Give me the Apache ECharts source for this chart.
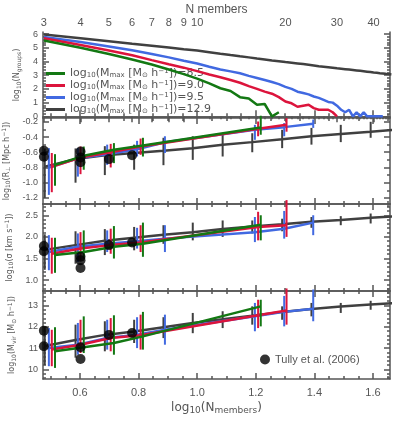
<!DOCTYPE html>
<html><head><meta charset="utf-8">
<script src="https://cdn.jsdelivr.net/npm/echarts@6/dist/echarts.min.js"></script>
<style>html,body{margin:0;padding:0;background:#fff}#c{width:398px;height:424px}</style>
</head><body><div id="c"></div>
<script>
// ---------------- DATA ----------------
// Top panel: log10(N_groups) for N members = 3,4,5,...
const ngGreen = [5.53,5.0,4.55,4.15,3.78,3.42,3.08,2.75,2.4,2.05,1.85,1.4,1.3,0.85,0.9,0,0.3];
const ngRed   = [5.69,5.2,4.8,4.45,4.1,3.8,3.55,3.3,3.05,2.85,2.65,2.45,2.2,2.0,1.8,1.65,1.4,1.08,0.95,0.7,0.78,0.85,0.6,0.48,0.48,0.48,0.3,0];
const ngBlue  = [5.78,5.42,5.1,4.82,4.55,4.3,4.05,3.85,3.62,3.42,3.28,3.14,2.95,2.8,2.65,2.5,2.35,2.15,2.0,1.8,1.7,1.6,1.45,1.35,1.2,1.05,1.0,0.78,0.48,0.3,0.48,0,0.3,0,0.3,0,0,0,0,0,0];
const ngGray  = [5.96,5.7,5.48,5.3,5.15,5.02,4.9,4.8,4.68,4.57,4.47,4.38,4.3,4.22,4.15,4.08,4.02,3.96,3.91,3.86,3.81,3.76,3.71,3.66,3.62,3.58,3.54,3.5,3.47,3.44,3.41,3.38,3.35,3.32,3.29,3.26,3.23,3.2,3.18,3.15,3.13,3.1,3.08,3.05];
const massLabels = ['8.5','9.0','9.5','12.9'];

// Bin positions (log10 N_members)
const binXGray  = [0.48,0.585,0.685,0.785,0.885,0.985,1.087,1.188,1.29,1.39,1.49,1.592,1.69];
const binXBlue  = [0.494,0.593,0.693,0.795,0.89,1.197,1.297,1.396];
const binXRed   = [0.504,0.602,0.705,0.807,1.208,1.305];
const binXGreen = [0.515,0.613,0.716,0.815,1.217];

// Panel 2: log10(R)
const rGray = [-0.79,-0.69,-0.64,-0.61,-0.58,-0.546,-0.50,-0.467,-0.43,-0.39,-0.36,-0.33,-0.30];
const rGrayLo = [-1.2,-1.0,-0.90,-0.83,-0.77,-0.70,-0.656,-0.60,-0.546,-0.50,-0.467,-0.41];
const rGrayHi = [-0.55,-0.55,-0.52,-0.50,-0.41,-0.39,-0.37,-0.35,-0.305,-0.28,-0.24,-0.20];
const rBlue = [-0.80,-0.68,-0.625,-0.56,-0.47,-0.305,-0.27,-0.226];
const rBlueLo = [-1.16,-0.92,-0.766,-0.656,-0.61,-0.437,-0.39,-0.28];
const rBlueHi = [-0.546,-0.546,-0.50,-0.45,-0.39,-0.24,-0.217,-0.17];
const rRed = [-0.79,-0.67,-0.60,-0.525,-0.29,-0.24];
const rRedLo = [-1.125,-0.888,-0.80,-0.634,-0.39,-0.33];
const rRedHi = [-0.61,-0.525,-0.49,-0.42,-0.196,-0.15];
const rGreen = [-0.766,-0.647,-0.568,-0.51,-0.275];
const rGreenLo = [-1.04,-0.83,-0.743,-0.656,-0.37];
const rGreenHi = [-0.625,-0.525,-0.48,-0.41,-0.12];
const tullyXR = [0.477,0.477,0.602,0.602,0.602,0.699,0.778];
const tullyR  = [-0.58,-0.66,-0.59,-0.67,-0.73,-0.69,-0.64];

// Panel 3: log10(sigma)
const sGray = [1.70,1.81,1.91,1.98,2.05,2.11,2.18,2.24,2.29,2.35,2.39,2.44,2.48];
const sGrayLo = [1.24,1.38,1.58,1.69,1.84,1.92,2.0,2.08,2.13,2.21,2.27,2.31];
const sGrayHi = [2.06,2.13,2.18,2.23,2.27,2.33,2.38,2.38,2.42,2.46,2.48,2.54];
const sBlue = [1.65,1.77,1.84,1.90,1.96,2.11,2.19,2.33];
const sBlueLo = [1.23,1.42,1.65,1.73,1.65,1.88,1.96,2.04];
const sBlueHi = [2.04,2.08,2.15,2.21,2.27,2.46,2.6,2.5];
const sRed = [1.61,1.73,1.81,1.87,2.23,2.27];
const sRedLo = [1.15,1.46,1.61,1.65,1.92,2.0];
const sRedHi = [1.98,2.11,2.19,2.27,2.58,2.85];
const sGreen = [1.58,1.65,1.77,1.84,2.28];
const sGreenLo = [1.17,1.5,1.5,1.54,1.92];
const sGreenHi = [1.98,2.15,2.25,2.33,2.5];
const tullyXS = [0.477,0.477,0.602,0.602,0.602,0.699,0.778];
const tullyS  = [1.79,1.67,1.54,1.46,1.28,1.81,1.87];

// Panel 4: log10(M_vir)
const mGray = [11.1,11.38,11.62,11.78,11.98,12.18,12.35,12.52,12.7,12.83,12.95,13.05,13.13];
const mGrayLo = [10.2,10.55,10.85,11.24,11.47,11.7,11.94,12.1,12.33,12.49,12.65,12.8];
const mGrayHi = [12.0,12.1,12.26,12.33,12.45,12.65,12.73,12.96,12.96,13.12,13.12,13.22];
const mBlue = [11.0,11.16,11.47,11.63,11.86,12.49,12.7,12.85];
const mBlueLo = [10.15,10.69,10.93,11.0,11.16,11.79,12.02,12.26];
const mBlueHi = [11.94,12.18,12.33,12.45,12.57,13.12,13.45,13.75];
const mRed = [10.93,11.16,11.47,11.6,12.54,12.76];
const mRedLo = [10.15,10.77,10.85,10.93,11.94,12.1];
const mRedHi = [11.86,12.33,12.41,12.57,13.27,13.8];
const mGreen = [10.85,11.04,11.24,11.55,12.96];
const mGreenLo = [10.07,10.77,10.69,10.93,12.02];
const mGreenHi = [11.98,12.49,12.54,12.7,13.27];
const tullyXM = [0.477,0.477,0.602,0.602,0.699,0.778];
const tullyM  = [11.82,11.09,11.04,10.49,11.62,11.71];

// Tick labels
const xTickLabels = [0.6,0.8,1.0,1.2,1.4,1.6];
const nTopLabels = [3,4,5,6,7,8,9,10,20,30,40];

// ---------------- STYLE / LAYOUT ----------------
const C = {gray:'#404040', blue:'#4169e1', red:'#dc143c', green:'#137813'};
const AX = '#555';
const FONT = 'DejaVu Sans';
const TFONT = 'Liberation Sans';
const XMIN = 0.474, XMAX = 1.658;
const LEFT = 43, WIDTH = 347;
const richSub = {
  s:{fontSize:6,lineHeight:8,verticalAlign:'bottom',fontFamily:FONT,color:AX},
  p:{fontSize:6,lineHeight:8,verticalAlign:'top',fontFamily:FONT,color:AX}
};
function range(a,b,step){const o=[];for(let v=a;v<=b+1e-9;v+=step)o.push(+v.toFixed(4));return o;}

const panels = [
  {top:32,height:86,min:-0.12,max:6.15,major:[0,1,2,3,4,5,6],minor:range(0,6.0,0.2),fmt:v=>String(Math.round(v)),name:'log{s|10}(N{s|groups})',gap:15},
  {top:118,height:86,min:-1.28,max:-0.15,major:[-1.2,-1.0,-0.8,-0.6,-0.4,-0.2],minor:range(-1.2,-0.2,0.1),fmt:v=>v.toFixed(1),name:'log{s|10}(R{s|⊥} [Mpc h{p|−1}])',gap:23},
  {top:204,height:87,min:0.75,max:2.76,major:[1.0,1.5,2.0,2.5],minor:range(0.8,2.7,0.1),fmt:v=>v.toFixed(1),name:'log{s|10}(σ [km s{p|−1}])',gap:18},
  {top:291,height:88,min:9.55,max:13.68,major:[10,11,12,13],minor:range(9.6,13.6,0.2),fmt:v=>String(Math.round(v)),name:'log{s|10}(M{s|vir} [M{s|⊙} h{p|−1}])',gap:15}
];

const grids=[], xAxes=[], yAxes=[];
const lineSt = {color:AX,width:1.5};
const xMajorTicks = [0.6,0.8,1.0,1.2,1.4,1.6];
const xMinorTicks = range(0.5,1.65,0.05);
const nMinor = [];
for(let n=11;n<=45;n++){ if(n%10!==0) nMinor.push(Math.log10(n)); }

panels.forEach((p,i)=>{
  grids.push({left:LEFT,width:WIDTH,top:p.top,height:p.height,containLabel:false,outerBoundsMode:'none'});
  const base = {gridIndex:i,type:'value',min:XMIN,max:XMAX,splitLine:{show:false}};
  xAxes.push(Object.assign({},base,{position:'bottom',
    axisLine:{show:true,lineStyle:lineSt},
    axisTick:{show:true,inside:true,length:6,customValues:xMajorTicks,lineStyle:lineSt},
    axisLabel:{show:i===3,customValues:xTickLabels,formatter:v=>v.toFixed(1),color:AX,fontFamily:TFONT,fontSize:11,margin:8},
    name:i===3?'log{a|10}(N{a|members})':'',nameLocation:'middle',nameGap:22,
    nameTextStyle:{fontFamily:FONT,fontSize:12,color:AX,lineHeight:14,rich:{a:{fontSize:9,lineHeight:10,verticalAlign:'bottom',fontFamily:FONT,color:AX}}}
  }));
  xAxes.push(Object.assign({},base,{position:'bottom',axisLine:{show:false},
    axisTick:{show:true,inside:true,length:3,customValues:xMinorTicks,lineStyle:lineSt},axisLabel:{show:false}}));
  if(i===0){
    xAxes.push(Object.assign({},base,{position:'top',
      axisLine:{show:true,lineStyle:lineSt},
      axisTick:{show:true,inside:true,length:6,customValues:nTopLabels.map(n=>Math.log10(n)),lineStyle:lineSt},
      axisLabel:{show:true,customValues:nTopLabels.map(n=>Math.log10(n)),formatter:v=>String(Math.round(Math.pow(10,v))),color:AX,fontFamily:TFONT,fontSize:11,margin:4},
      name:'N members',nameLocation:'middle',nameGap:16,nameTextStyle:{fontFamily:TFONT,fontSize:12,color:AX}
    }));
    xAxes.push(Object.assign({},base,{position:'top',axisLine:{show:false},
      axisTick:{show:true,inside:true,length:3,customValues:nMinor,lineStyle:lineSt},axisLabel:{show:false}}));
  } else {
    xAxes.push(Object.assign({},base,{position:'top',axisLine:{show:true,lineStyle:lineSt},
      axisTick:{show:true,inside:true,length:6,customValues:xMajorTicks,lineStyle:lineSt},axisLabel:{show:false}}));
    xAxes.push(Object.assign({},base,{position:'top',axisLine:{show:false},
      axisTick:{show:true,inside:true,length:3,customValues:xMinorTicks,lineStyle:lineSt},axisLabel:{show:false}}));
  }
  const yb = {gridIndex:i,type:'value',min:p.min,max:p.max,splitLine:{show:false}};
  yAxes.push(Object.assign({},yb,{position:'left',axisLine:{show:true,lineStyle:lineSt},
    axisTick:{show:true,inside:true,length:6,customValues:p.major,lineStyle:lineSt},
    axisLabel:{show:true,customValues:p.major,formatter:p.fmt,color:AX,fontFamily:TFONT,fontSize:9,margin:5},
    name:p.name,nameLocation:'middle',nameRotate:90,nameGap:p.gap,
    nameTextStyle:{fontFamily:FONT,fontSize:8,color:AX,lineHeight:10,rich:richSub}}));
  yAxes.push(Object.assign({},yb,{position:'left',axisLine:{show:false},
    axisTick:{show:true,inside:true,length:3,customValues:p.minor,lineStyle:lineSt},axisLabel:{show:false}}));
  yAxes.push(Object.assign({},yb,{position:'right',axisLine:{show:true,lineStyle:lineSt},
    axisTick:{show:true,inside:true,length:6,customValues:p.major,lineStyle:lineSt},axisLabel:{show:false}}));
  yAxes.push(Object.assign({},yb,{position:'right',axisLine:{show:false},
    axisTick:{show:true,inside:true,length:3,customValues:p.minor,lineStyle:lineSt},axisLabel:{show:false}}));
});

const series=[];
function topLine(name,vals,color,z){
  series.push({type:'line',name,xAxisIndex:0,yAxisIndex:0,symbol:'none',z,
    data:vals.map((v,k)=>[Math.log10(3+k),v]),lineStyle:{color,width:2.5},itemStyle:{color},animation:false});
}
topLine('M=12.9',ngGray,C.gray,2);
topLine('M=9.5',ngBlue,C.blue,3);
topLine('M=9.0',ngRed,C.red,4);
topLine('M=8.5',ngGreen,C.green,5);

function panelSeries(pi,xs,vals,lo,hi,color,z){
  const ai = pi*4;
  series.push({type:'line',xAxisIndex:ai,yAxisIndex:ai,symbol:'none',z,animation:false,
    data:vals.map((v,k)=>[xs[k],v]),lineStyle:{color,width:2.5},itemStyle:{color}});
  series.push({type:'custom',xAxisIndex:ai,yAxisIndex:ai,z,animation:false,clip:false,
    data:lo.map((l,k)=>[xs[k],l,hi[k]]),
    renderItem:(params,api)=>{
      const a=api.coord([api.value(0),api.value(1)]), b=api.coord([api.value(0),api.value(2)]);
      return {type:'line',shape:{x1:a[0],y1:a[1],x2:b[0],y2:b[1]},style:{stroke:color,lineWidth:2}};
    }});
}
function tully(pi,xs,ys){
  const ai=pi*4;
  series.push({type:'scatter',name:'Tully et al. (2006)',xAxisIndex:ai,yAxisIndex:ai,z:30,zlevel:0,animation:false,
    symbol:'circle',symbolSize:10,itemStyle:{color:'#000',borderWidth:0},data:ys.map((y,k)=>[xs[k],y])});
}
panelSeries(1,binXGray,rGray,rGrayLo,rGrayHi,C.gray,2);
panelSeries(1,binXBlue,rBlue,rBlueLo,rBlueHi,C.blue,3);
panelSeries(1,binXRed,rRed,rRedLo,rRedHi,C.red,4);
panelSeries(1,binXGreen,rGreen,rGreenLo,rGreenHi,C.green,5);
tully(1,tullyXR,tullyR);
panelSeries(2,binXGray,sGray,sGrayLo,sGrayHi,C.gray,2);
panelSeries(2,binXBlue,sBlue,sBlueLo,sBlueHi,C.blue,3);
panelSeries(2,binXRed,sRed,sRedLo,sRedHi,C.red,4);
panelSeries(2,binXGreen,sGreen,sGreenLo,sGreenHi,C.green,5);
tully(2,tullyXS,tullyS);
panelSeries(3,binXGray,mGray,mGrayLo,mGrayHi,C.gray,2);
panelSeries(3,binXBlue,mBlue,mBlueLo,mBlueHi,C.blue,3);
panelSeries(3,binXRed,mRed,mRedLo,mRedHi,C.red,4);
panelSeries(3,binXGreen,mGreen,mGreenLo,mGreenHi,C.green,5);
tully(3,tullyXM,tullyM);

const chart = echarts.init(document.getElementById('c'),null,{renderer:'canvas'});
chart.setOption({
  animation:false,
  backgroundColor:'#fff',
  grid:grids, xAxis:xAxes, yAxis:yAxes, series,
  legend:[
    {data:['M=8.5','M=9.0','M=9.5','M=12.9'],orient:'vertical',left:46,top:68,padding:0,itemGap:1,
     itemWidth:19,itemHeight:3,icon:'rect',selectedMode:false,
     formatter:n=>'log{s|10}(M{s|max} [M{s|⊙} h{p|−1}])='+n.slice(2),
     textStyle:{fontFamily:FONT,fontSize:11,color:AX,lineHeight:11,rich:{
       s:{fontSize:7,lineHeight:8,verticalAlign:'bottom',fontFamily:FONT,color:AX},
       p:{fontSize:7,lineHeight:8,verticalAlign:'top',fontFamily:FONT,color:AX}}}},
    {data:['Tully et al. (2006)'],left:260,top:354,padding:0,itemWidth:10,itemHeight:10,icon:'circle',selectedMode:false,
     textStyle:{fontFamily:TFONT,fontSize:11,color:AX}}
  ]
});
</script></body></html>
